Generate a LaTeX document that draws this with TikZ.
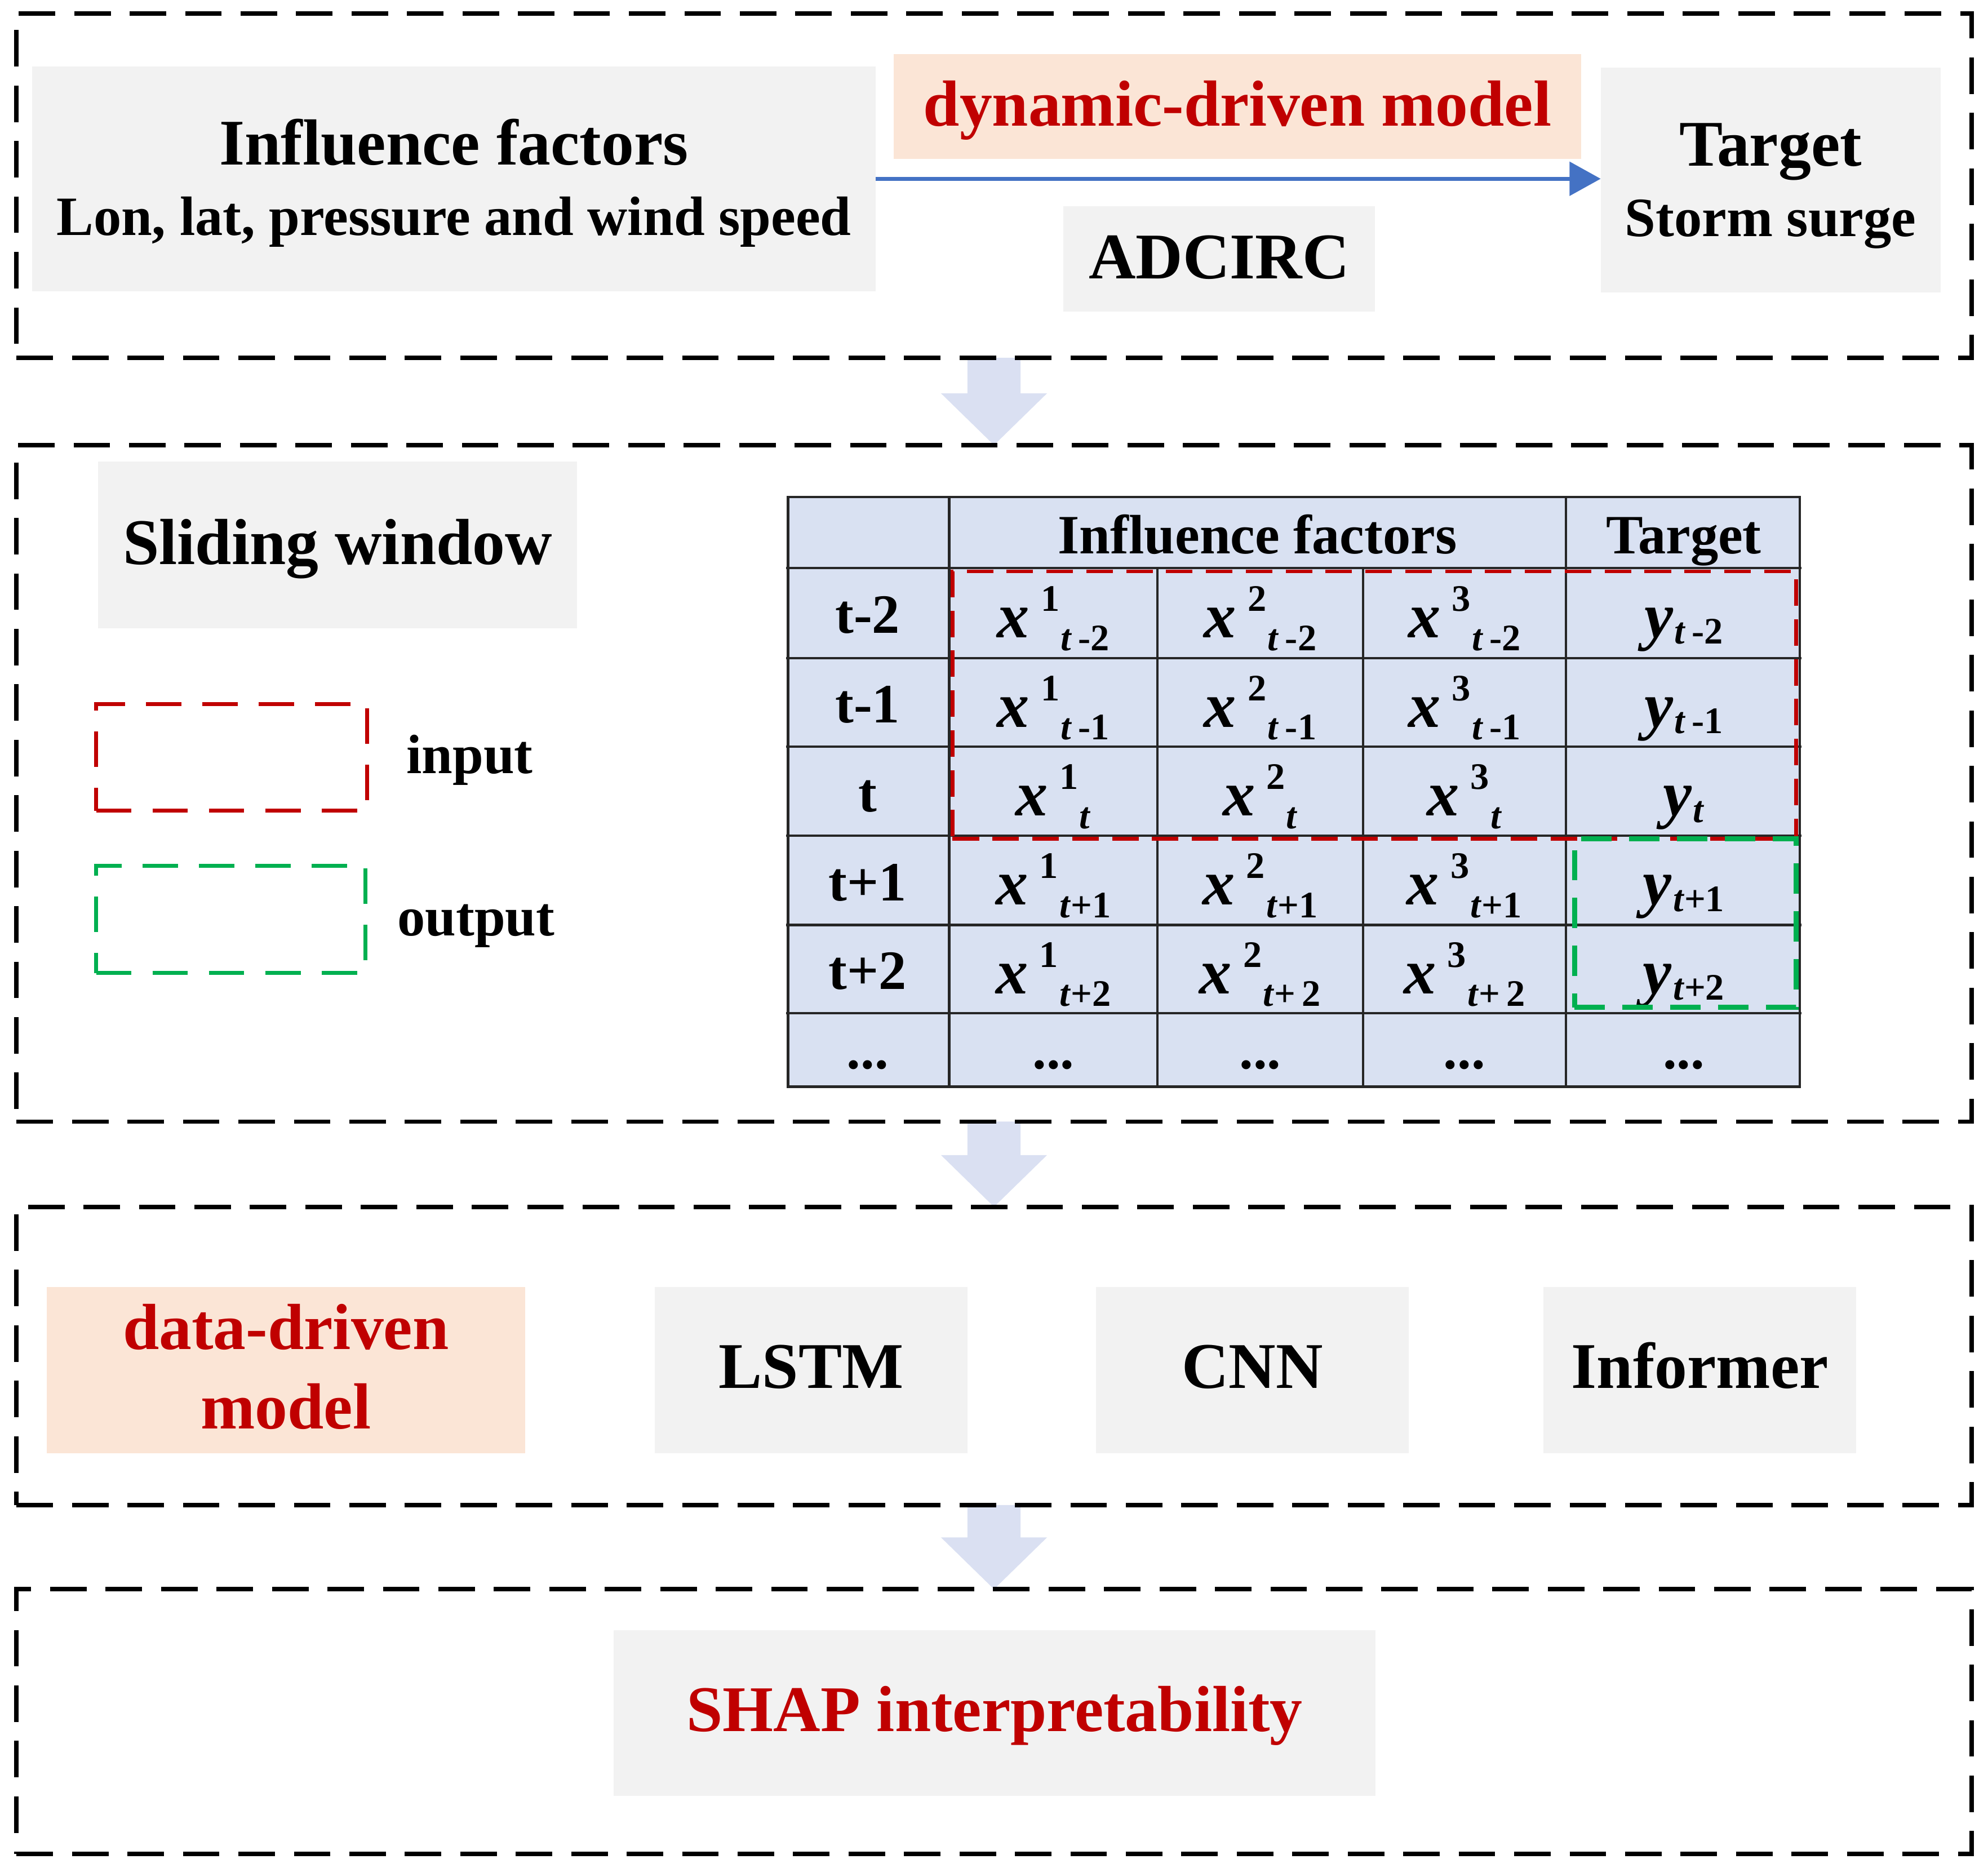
\documentclass[tikz,border=0pt]{standalone}
\usepackage{fontspec}
\setmainfont{Liberation Serif}
\usetikzlibrary{arrows.meta,backgrounds}
\definecolor{boxgray}{HTML}{F2F2F2}
\definecolor{peach}{HTML}{FBE5D6}
\definecolor{darkred}{HTML}{C00000}
\definecolor{arrowblue}{HTML}{4472C4}
\definecolor{tablefill}{HTML}{D9E1F2}
\definecolor{bigarrow}{HTML}{DAE0F2}
\definecolor{outgreen}{HTML}{00B050}
\newlength\dpx\setlength\dpx{0.56693pt}
\newcommand\bigf{\fontsize{29.25pt}{33pt}\selectfont\bfseries}
\newcommand\medf{\fontsize{24.9pt}{28pt}\selectfont\bfseries}
\newcommand\varf{\fontsize{29pt}{32pt}\selectfont\bfseries\itshape}
\newcommand\scrf{\fontsize{16.8pt}{18pt}\selectfont\bfseries}
\newcommand\tvar{\textit{t}}
\newcommand\xcell[2]{{\varf x}\hspace{9\dpx}\raisebox{21\dpx}{\scrf #1}\hspace{1\dpx}\raisebox{-10\dpx}{\scrf #2}}
\newcommand\ycell[1]{{\varf y}\hspace{1\dpx}\raisebox{-5\dpx}{\scrf #1}}
\newcommand\bx[6]{\node[#2,minimum width={(#5-#3)*0.56693pt},minimum height={(#6-#4)*0.56693pt}] (#1) at ({(#3+#5)/2},{(#4+#6)/2}) {};}
\begin{document}
\begin{tikzpicture}[x=0.02cm,y=-0.02cm,
  boxbase/.style={rectangle,inner sep=0pt,outer sep=0pt},
  graybox/.style={boxbase,fill=boxgray},
  peachbox/.style={boxbase,fill=peach},
  panel/.style={boxbase,draw=black,line width=2pt,dash pattern=on 16.4pt off 8.5pt},
  legin/.style={boxbase,draw=darkred,line width=1.8pt,dash pattern=on 15.9pt off 9.4pt},
  legout/.style={boxbase,draw=outgreen,line width=1.8pt,dash pattern=on 15.9pt off 9.4pt},
  winin/.style={boxbase,draw=darkred,line width=1.7pt,dash pattern=on 11.9pt off 6pt},
  winout/.style={boxbase,draw=outgreen,line width=2.4pt,dash pattern=on 13.6pt off 7.9pt},
  tablebox/.style={boxbase,fill=tablefill,draw=black!85,line width=1.1pt},
  txt/.style={inner sep=0pt,outer sep=0pt,anchor=base},
  bigtxt/.style={txt,font=\bigf},
  medtxt/.style={txt,font=\medf},
  tabtxt/.style={txt,font=\medf},
  redtxt/.style={text=darkred},
  tline/.style={draw=black!85,line width=1.1pt},
  fatarrow/.style={fill=bigarrow},
  bluearrow/.style={draw=arrowblue,line width=1.8pt,-{Triangle[length=14pt,width=15pt]}}
]
\useasboundingbox (0,0) rectangle (1568,1473);

% panels
\bx{p1}{panel}{10}{10}{1558}{282.7}
\bx{p2}{panel}{10}{350}{1558}{885.7}
\bx{p3}{panel}{10}{951.4}{1558}{1187.5}
\bx{p4}{panel}{10}{1253}{1558}{1462.7}

% panel 1
\bx{infl}{graybox}{24}{52}{692}{230}
\node[bigtxt] (inflt) at (358,130) {Influence factors};
\node[medtxt] (infls) at (358,185.5) {Lon, lat, pressure and wind speed};
\bx{dyn}{peachbox}{704}{42.7}{1248}{125.4}
\node[bigtxt,redtxt] (dynt) at (976,99.2) {dynamic-driven model};
\bx{adc}{graybox}{838}{162.3}{1085}{246}
\node[bigtxt] (adct) at (961.5,219.8) {ADCIRC};
\bx{tgt}{graybox}{1262}{53.2}{1531}{231}
\node[bigtxt] (tgtt) at (1396.5,131) {Target};
\node[medtxt] (tgts) at (1396.5,186.5) {Storm surge};
\draw[bluearrow] (infl.east) -- (infl.east -| tgt.west);

% panel 2
\bx{slw}{graybox}{76.6}{363.9}{456}{495.6}
\node[bigtxt] (slwt) at (266.3,445) {Sliding window};
\bx{legA}{legin}{75.4}{555}{290}{639.6}
\node[medtxt,anchor=base west] (inpt) at (320.6,609.8) {input};
\bx{legB}{legout}{75.4}{682.7}{288.5}{767.6}
\node[medtxt,anchor=base west] (outt) at (313.5,738) {output};

% table
\bx{tab}{tablebox}{620}{391}{1421}{858}
\foreach \yy in {448,519,589,659,729.5,799} \draw[tline] (620,\yy) -- (1421,\yy);
\draw[tline] (748.6,391) -- (748.6,858);
\draw[tline] (1235,391) -- (1235,858);
\draw[tline] (913,448) -- (913,858);
\draw[tline] (1075,448) -- (1075,858);

\node[tabtxt] (hif) at (991.8,436.5) {Influence factors};
\node[tabtxt] (htg) at (1328,436.5) {Target};

\node[tabtxt] (l1) at (684.3,499.5) {t-2};
\node[tabtxt] (l2) at (684.3,570) {t-1};
\node[tabtxt] (l3) at (684.3,640) {t};
\node[tabtxt] (l4) at (684.3,710.25) {t+1};
\node[tabtxt] (l5) at (684.3,780.25) {t+2};
\node[tabtxt] (l6) at (684.3,843) {...};

\node[txt] (c11) at (830.8,503) {\xcell{1}{\tvar\,-2}};
\node[txt] (c12) at (994,503) {\xcell{2}{\tvar\,-2}};
\node[txt] (c13) at (1155,503) {\xcell{3}{\tvar\,-2}};
\node[txt] (c14) at (1328,503) {\ycell{\tvar\,-2}};

\node[txt] (c21) at (830.8,573.5) {\xcell{1}{\tvar\,-1}};
\node[txt] (c22) at (994,573.5) {\xcell{2}{\tvar\,-1}};
\node[txt] (c23) at (1155,573.5) {\xcell{3}{\tvar\,-1}};
\node[txt] (c24) at (1328,573.5) {\ycell{\tvar\,-1}};

\node[txt] (c31) at (830.8,643.5) {\xcell{1}{\tvar}};
\node[txt] (c32) at (994,643.5) {\xcell{2}{\tvar}};
\node[txt] (c33) at (1155,643.5) {\xcell{3}{\tvar}};
\node[txt] (c34) at (1328,643.5) {\ycell{\tvar}};

\node[txt] (c41) at (830.8,713.75) {\xcell{1}{\tvar+1}};
\node[txt] (c42) at (994,713.75) {\xcell{2}{\tvar+1}};
\node[txt] (c43) at (1155,713.75) {\xcell{3}{\tvar+1}};
\node[txt] (c44) at (1328,713.75) {\ycell{\tvar+1}};

\node[txt] (c51) at (830.8,783.75) {\xcell{1}{\tvar+2}};
\node[txt] (c52) at (994,783.75) {\xcell{2}{\tvar+\,2}};
\node[txt] (c53) at (1155,783.75) {\xcell{3}{\tvar+\,2}};
\node[txt] (c54) at (1328,783.75) {\ycell{\tvar+2}};

\node[tabtxt] (c61) at (830.8,843) {...};
\node[tabtxt] (c62) at (994,843) {...};
\node[tabtxt] (c63) at (1155,843) {...};
\node[tabtxt] (c64) at (1328,843) {...};

\bx{winA}{winin}{750}{450.3}{1418}{662}
\bx{winB}{winout}{1241.6}{661.4}{1417}{794.8}

% panel 3
\bx{ddm}{peachbox}{36}{1015}{415}{1146.5}
\node[bigtxt,redtxt] (ddm1) at (225.5,1064) {data-driven};
\node[bigtxt,redtxt] (ddm2) at (225.5,1127) {model};
\bx{lstm}{graybox}{516}{1015}{763.5}{1146.5}
\node[bigtxt] (lstmt) at (639.75,1095) {LSTM};
\bx{cnn}{graybox}{864}{1015}{1111.5}{1146.5}
\node[bigtxt] (cnnt) at (987.75,1095) {CNN};
\bx{infm}{graybox}{1217}{1015}{1464.5}{1146.5}
\node[bigtxt] (infmt) at (1340.75,1095) {Informer};

% panel 4
\bx{shap}{graybox}{483}{1285.4}{1086}{1416.5}
\node[bigtxt,redtxt] (shapt) at (784.5,1365.6) {SHAP interpretability};

% fat arrows between panels
\begin{scope}[on background layer]
\fill[white] (0,0) rectangle (1568,1473);
\foreach \a/\b in {p1/p2,p2/p3,p3/p4}{
\fill[fatarrow] ([xshift=-11.9pt]\a.south) -- ([xshift=11.9pt]\a.south)
  -- ([xshift=11.9pt,yshift=23.24pt]\b.north) -- ([xshift=23.8pt,yshift=23.24pt]\b.north)
  -- (\b.north) -- ([xshift=-23.8pt,yshift=23.24pt]\b.north)
  -- ([xshift=-11.9pt,yshift=23.24pt]\b.north) -- cycle;
}
\end{scope}
\end{tikzpicture}
\end{document}
